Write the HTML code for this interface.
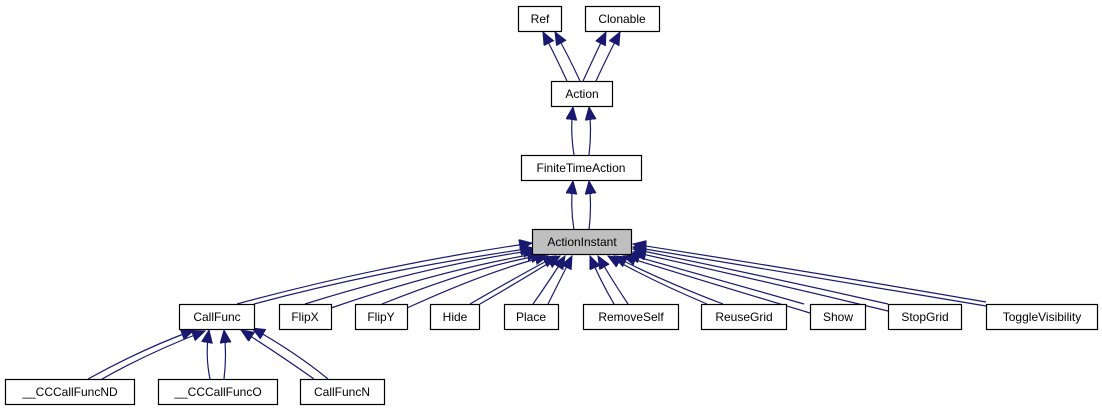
<!DOCTYPE html>
<html><head><meta charset="utf-8"><style>
html,body{margin:0;padding:0;background:#fff;}
svg{display:block;}
text{font-family:"Liberation Sans",sans-serif;font-size:12px;fill:#000;}
</style></head><body>
<svg width="1102" height="411" viewBox="0 0 1102 411" xmlns="http://www.w3.org/2000/svg">
<defs>
<marker id="a" markerUnits="userSpaceOnUse" markerWidth="14" markerHeight="12" refX="13" refY="5.5" orient="auto">
<path d="M0,0 L13,5.5 L0,11 Z" fill="#191970" stroke="#191970"/>
</marker>
</defs>
<g stroke="#191970" stroke-width="1.2" fill="none" marker-end="url(#a)">
<!-- Action -> Ref / Clonable -->
<path d="M567,81 Q555,55 543,32"/>
<path d="M580,81 Q568,55 555,32"/>
<path d="M583,81 Q595,55 606,32"/>
<path d="M596,81 Q608,55 620,32"/>
<!-- FTA -> Action -->
<path d="M574,155 Q570,130 573,107"/>
<path d="M589,155 Q592,130 589,107"/>
<!-- AI -> FTA -->
<path d="M574,230 Q570,205 573,181"/>
<path d="M589,230 Q592,205 589,181"/>
<!-- children -> AI -->
<path d="M254,304 Q380,270 533,248"/>
<path d="M237,304 Q380,265 532,243"/>
<path d="M331,308 Q440,270 540,253"/>
<path d="M305,304 Q430,265 536,250"/>
<path d="M407,308 Q490,270 548,256"/>
<path d="M382,304 Q480,265 544,255"/>
<path d="M480,304 Q530,275 560,256"/>
<path d="M470,304 Q520,275 556,256"/>
<path d="M548,304 Q560,280 572,256"/>
<path d="M533,304 Q550,280 565,256"/>
<path d="M614,304 Q600,280 590,256"/>
<path d="M628,304 Q612,280 598,256"/>
<path d="M707,304 Q650,280 608,256"/>
<path d="M723,304 Q660,280 614,256"/>
<path d="M810,313 Q700,280 623,256"/>
<path d="M804,304 Q700,275 627,254"/>
<path d="M888,311 Q760,280 633,252"/>
<path d="M888,304 Q760,275 633,249"/>
<path d="M986,306 Q800,275 633,247"/>
<path d="M986,302 Q800,270 633,244"/>
<!-- CallFunc children -->
<path d="M88,379 Q140,350 194,330"/>
<path d="M102,379 Q150,352 205,331"/>
<path d="M210,379 Q205,355 209,330"/>
<path d="M224,379 Q227,355 224,330"/>
<path d="M314,379 Q280,355 241,330"/>
<path d="M328,379 Q295,352 252,328"/>
</g>
<g stroke="#000" stroke-width="1.2" fill="#fff">
<rect x="518.5" y="6.5" width="43" height="25"/>
<rect x="585.5" y="6.5" width="74" height="25"/>
<rect x="551.5" y="81.5" width="61" height="25"/>
<rect x="521.5" y="155.5" width="120" height="25"/>
<rect x="532.5" y="229.5" width="99" height="25" fill="#bfbfbf"/>
<rect x="179.5" y="304.5" width="75" height="25"/>
<rect x="279.5" y="304.5" width="52" height="25"/>
<rect x="355.5" y="304.5" width="52" height="25"/>
<rect x="430.5" y="304.5" width="49" height="25"/>
<rect x="504.5" y="304.5" width="54" height="25"/>
<rect x="583.5" y="304.5" width="95" height="25"/>
<rect x="701.5" y="304.5" width="85" height="25"/>
<rect x="810.5" y="304.5" width="55" height="25"/>
<rect x="888.5" y="304.5" width="73" height="25"/>
<rect x="986.5" y="304.5" width="111" height="25"/>
<rect x="5.5" y="379.5" width="129" height="25"/>
<rect x="158.5" y="379.5" width="119" height="25"/>
<rect x="300.5" y="379.5" width="84" height="25"/>
</g>
<g text-anchor="middle">
<text x="540" y="23">Ref</text>
<text x="622" y="23">Clonable</text>
<text x="582" y="98">Action</text>
<text x="581" y="172">FiniteTimeAction</text>
<text x="582" y="246">ActionInstant</text>
<text x="217" y="321">CallFunc</text>
<text x="305" y="321">FlipX</text>
<text x="381" y="321">FlipY</text>
<text x="455" y="321">Hide</text>
<text x="531" y="321">Place</text>
<text x="631" y="321">RemoveSelf</text>
<text x="744" y="321">ReuseGrid</text>
<text x="838" y="321">Show</text>
<text x="925" y="321">StopGrid</text>
<text x="1042" y="321">ToggleVisibility</text>
<text x="70" y="396">__CCCallFuncND</text>
<text x="218" y="396">__CCCallFuncO</text>
<text x="342" y="396">CallFuncN</text>
</g>
</svg>
</body></html>
